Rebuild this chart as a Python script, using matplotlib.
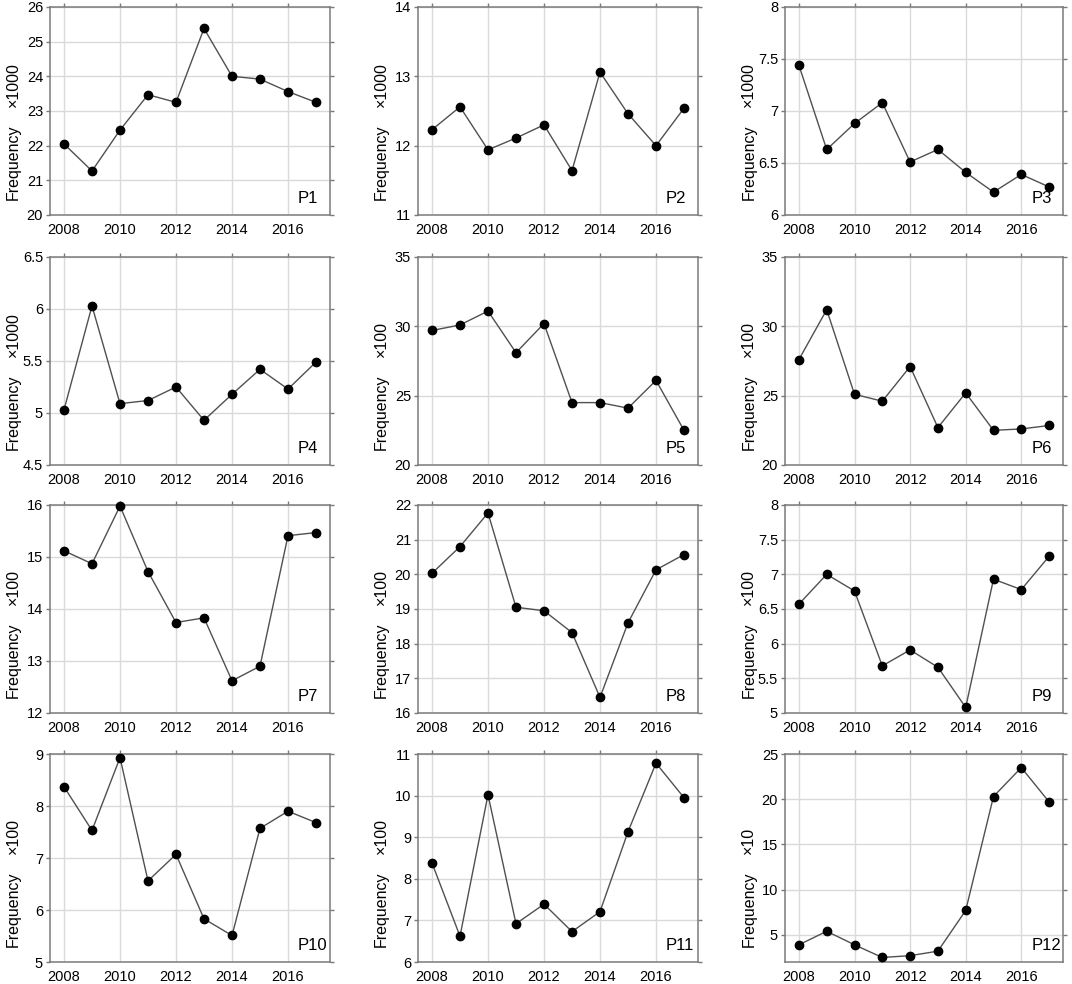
import numpy as np
import matplotlib
matplotlib.use("Agg")
import matplotlib.pyplot as plt
from matplotlib.ticker import MultipleLocator, FuncFormatter

plt.rcParams['font.family'] = ['Liberation Sans', 'DejaVu Sans']

years = [2008, 2009, 2010, 2011, 2012, 2013, 2014, 2015, 2016, 2017]

# series values (in units of the scale shown on each panel)
p1 = [22.05, 21.27, 22.45, 23.47, 23.25, 25.38, 24.00, 23.92, 23.56, 23.25]
p2 = [12.23, 12.56, 11.94, 12.11, 12.30, 11.64, 13.06, 12.46, 12.00, 12.54]
p3 = [7.44, 6.63, 6.88, 7.08, 6.51, 6.63, 6.41, 6.22, 6.39, 6.27]
p4 = [5.03, 6.03, 5.09, 5.12, 5.25, 4.93, 5.18, 5.42, 5.23, 5.49]
p5 = [29.7, 30.1, 31.1, 28.1, 30.2, 24.5, 24.5, 24.1, 26.1, 22.5]
p6 = [27.6, 31.2, 25.1, 24.6, 27.1, 22.7, 25.2, 22.5, 22.6, 22.85]
p7 = [15.12, 14.87, 15.98, 14.72, 13.74, 13.83, 12.62, 12.90, 15.41, 15.47]
p8 = [20.03, 20.80, 21.77, 19.05, 18.95, 18.32, 16.45, 18.60, 20.13, 20.57]
p9 = [6.57, 7.00, 6.76, 5.68, 5.91, 5.66, 5.08, 6.93, 6.78, 7.26]
p10 = [8.37, 7.53, 8.93, 6.56, 7.07, 5.83, 5.51, 7.57, 7.90, 7.68]
p11 = [8.38, 6.62, 10.02, 6.92, 7.39, 6.73, 7.21, 9.13, 10.78, 9.95]
p12 = [3.9, 5.4, 3.9, 2.5, 2.7, 3.2, 7.7, 20.3, 23.5, 19.7]

series = [p1, p2, p3, p4, p5, p6, p7, p8, p9, p10, p11, p12]
names = ['P1', 'P2', 'P3', 'P4', 'P5', 'P6', 'P7', 'P8', 'P9', 'P10', 'P11', 'P12']
scales = ['×1000', '×1000', '×1000', '×1000', '×100', '×100',
          '×100', '×100', '×100', '×100', '×100', '×10']
ylims = [(20, 26), (11, 14), (6, 8), (4.5, 6.5), (20, 35), (20, 35),
         (12, 16), (16, 22), (5, 8), (5, 9), (6, 11), (2, 25)]
ysteps = [1, 1, 0.5, 0.5, 5, 5, 1, 1, 0.5, 1, 1, 5]

W, H = 1072, 984
fig = plt.figure(figsize=(W / 100, H / 100), dpi=100)

# panel placement in pixels
col_left = [50, 418, 785]
col_width = [280, 280, 278]
row_top = [7, 257, 505, 754]
row_h = 208

spine_col = '#7a7a7a'
grid_col = '#dadada'

for i, vals in enumerate(series):
    r, c = divmod(i, 3)
    rect = [col_left[c] / W, 1 - (row_top[r] + row_h) / H, col_width[c] / W, row_h / H]
    ax = fig.add_axes(rect)

    ax.plot(years, vals, color='#505050', lw=1.0, marker='o', ms=6.0,
            mfc='black', mec='black', zorder=3, clip_on=False)

    ax.set_xlim(2007.5, 2017.5)
    ax.set_ylim(*ylims[i])
    ax.xaxis.set_major_locator(MultipleLocator(2))
    ax.yaxis.set_major_locator(MultipleLocator(ysteps[i]))
    ax.yaxis.set_major_formatter(FuncFormatter(lambda v, p: f'{v:g}'))

    ax.grid(True, color=grid_col, lw=1.0, zorder=0)
    for s in ax.spines.values():
        s.set_color(spine_col)
        s.set_linewidth(1.1)

    ax.tick_params(axis='both', which='major', labelsize=10.5, color=spine_col,
                   direction='out', length=3, width=1, pad=2)
    ax.tick_params(axis='x', bottom=False, top=True, labelbottom=True, pad=3)
    ax.tick_params(axis='y', left=True, right=True)

    ax.text(-0.13, 0.07, 'Frequency', transform=ax.transAxes, rotation=90,
            ha='center', va='bottom', fontsize=11.5)
    ax.text(-0.13, 0.52, scales[i], transform=ax.transAxes, rotation=90,
            ha='center', va='bottom', fontsize=11.5)
    ax.text(0.886, 0.045, names[i], transform=ax.transAxes,
            ha='left', va='bottom', fontsize=12)

fig.savefig('out.png', dpi=100)
